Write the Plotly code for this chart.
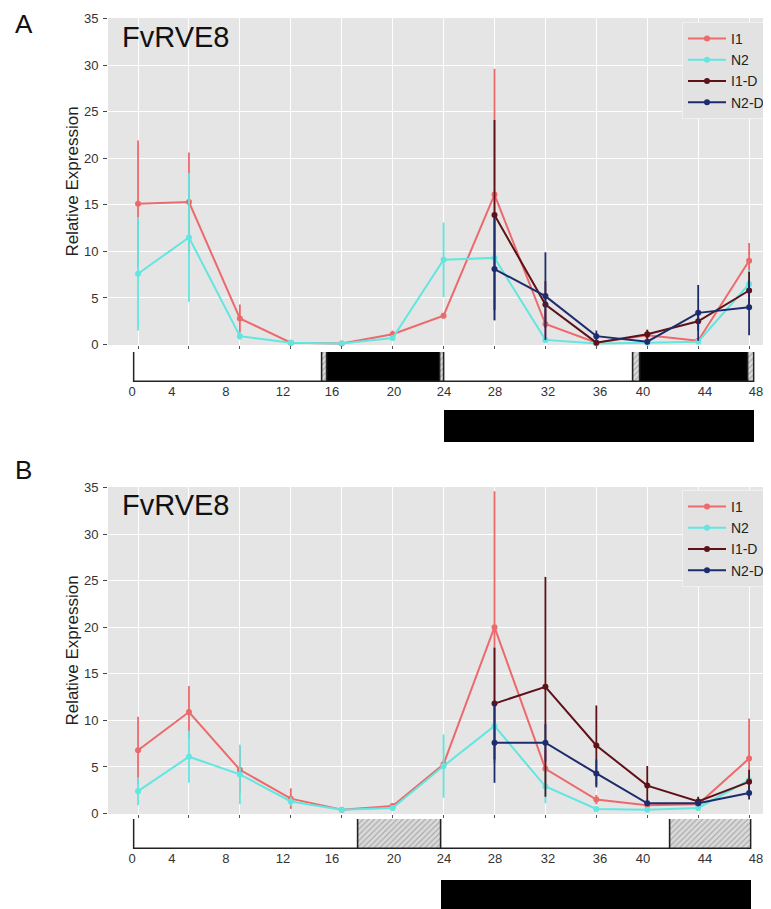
import plotly.graph_objects as go

# ---------------- data ----------------
sample_index = list(range(13))          # 13 sampling points
series_names = ["I1", "N2", "I1-D", "N2-D"]
series_colors = ["#EC6A6C", "#62E6E0", "#5E1218", "#1D2C6C"]

# Panel A
a_I1 = [15.1, 15.3, 2.8, 0.2, 0.1, 1.1, 3.1, 16.1, 2.2, 0.2, 1.0, 0.4, 9.0]
a_I1_err = [6.8, 5.3, 1.5, 0.2, 0.1, 0.4, 0.3, 13.5, 1.5, 0.3, 0.5, 0.3, 1.9]
a_N2 = [7.6, 11.5, 0.9, 0.2, 0.1, 0.7, 9.1, 9.3, 0.5, 0.1, 0.2, 0.3, 6.5]
a_N2_err = [6.1, 6.9, 0.4, 0.1, 0.1, 0.3, 4.0, 5.5, 0.3, 0.1, 0.1, 0.2, 1.5]
a_I1D = [None] * 7 + [13.9, 4.3, 0.2, 1.1, 2.5, 5.8]
a_I1D_err = [0] * 7 + [10.2, 2.5, 0.3, 0.5, 1.0, 2.0]
a_N2D = [None] * 7 + [8.1, 5.2, 0.9, 0.3, 3.4, 4.0]
a_N2D_err = [0] * 7 + [5.5, 4.7, 0.6, 0.3, 3.0, 3.0]

# Panel B
b_I1 = [6.8, 10.9, 4.7, 1.6, 0.4, 0.8, 5.3, 20.0, 4.8, 1.5, 0.9, 1.0, 5.9]
b_I1_err = [3.6, 2.8, 2.5, 1.1, 0.2, 0.3, 0.5, 14.6, 2.0, 0.5, 0.3, 0.3, 4.3]
b_N2 = [2.4, 6.1, 4.2, 1.3, 0.4, 0.6, 5.1, 9.4, 2.9, 0.5, 0.4, 0.6, 3.6]
b_N2_err = [1.5, 2.8, 3.2, 0.5, 0.2, 0.2, 3.4, 2.5, 1.8, 0.2, 0.2, 0.2, 1.0]
b_I1D = [None] * 7 + [11.8, 13.6, 7.3, 3.0, 1.3, 3.4]
b_I1D_err = [0] * 7 + [6.0, 11.8, 4.3, 2.1, 0.5, 1.3]
b_N2D = [None] * 7 + [7.6, 7.6, 4.3, 1.1, 1.1, 2.2]
b_N2D_err = [0] * 7 + [4.3, 2.0, 1.5, 0.3, 0.3, 0.7]

# Light/dark strips (hours): (start, end, kind)
a_strip = [(0, 14.55, "light"), (14.55, 15.0, "hatch"), (15.0, 23.7, "dark"),
           (23.7, 24.0, "hatch"), (24.0, 38.7, "light"), (38.7, 39.2, "hatch"),
           (39.2, 47.6, "dark"), (47.6, 48.0, "hatch")]
b_strip = [(0, 17.4, "light"), (17.4, 23.8, "hatch"), (23.8, 41.5, "light"),
           (41.5, 47.8, "hatch")]
a_dark_bar = (24.0, 48.0)
b_dark_bar = (23.8, 47.8)

hour_labels = ["0", "4", "8", "12", "16", "20", "24", "28", "32", "36", "40", "44", "48"]
hour_label_at = [-0.15, 2.94, 7.12, 11.53, 15.33, 20.13, 24.0, 27.95, 32.05, 36.08, 39.4, 44.2, 48.15]

gene = "FvRVE8"

# ---------------- figure ----------------
OFF = 8                      # page body margin
W, H = 771 - OFF, 909 - OFF
FONT = "Liberation Sans, Arial, Helvetica, sans-serif"

def fx(px):  # window pixel from left -> paper fraction
    return (px - OFF) / W

def py(px):  # window pixel from top -> paper fraction
    return 1 - (px - OFF) / H

fig = go.Figure()

panels = [
    dict(x="x", y="y", legend="legend", sx="x3", sy="y3", by="y5",
         data=[(a_I1, a_I1_err), (a_N2, a_N2_err), (a_I1D, a_I1D_err), (a_N2D, a_N2D_err)],
         strip=a_strip, dark=a_dark_bar),
    dict(x="x2", y="y2", legend="legend2", sx="x4", sy="y4", by="y6",
         data=[(b_I1, b_I1_err), (b_N2, b_N2_err), (b_I1D, b_I1D_err), (b_N2D, b_N2D_err)],
         strip=b_strip, dark=b_dark_bar),
]

kind_style = {
    "light": dict(color="#FFFFFF", pattern=dict(shape="")),
    "dark": dict(color="#000000", pattern=dict(shape="")),
    "hatch": dict(color="#DADADA", pattern=dict(shape="/", fgcolor="#6A6A6A", size=4, solidity=0.25)),
}

for p in panels:
    for name, color, (vals, errs) in zip(series_names, series_colors, p["data"]):
        fig.add_trace(go.Scatter(
            x=sample_index, y=vals, name=name, mode="lines+markers",
            line=dict(color=color, width=2), marker=dict(color=color, size=6),
            error_y=dict(type="data", array=errs, visible=True, color=color, thickness=1.8, width=0),
            xaxis=p["x"], yaxis=p["y"], legend=p["legend"], cliponaxis=False,
            connectgaps=False,
        ))
    for start, end, kind in p["strip"]:
        st = kind_style[kind]
        fig.add_trace(go.Bar(
            y=[0], x=[end - start], base=[start], orientation="h", width=1,
            marker=dict(color=st["color"], pattern=st["pattern"],
                        line=dict(color="#222222", width=1.5)),
            xaxis=p["sx"], yaxis=p["sy"], showlegend=False, hoverinfo="skip",
        ))
    d0, d1 = p["dark"]
    fig.add_trace(go.Bar(
        y=[0], x=[d1 - d0], base=[d0], orientation="h", width=1,
        marker=dict(color="#000000", line=dict(width=0)),
        xaxis=p["sx"], yaxis=p["by"], showlegend=False, hoverinfo="skip",
    ))

main_x_domain = [fx(108), 1.0]
strip_x_domain = [fx(131.4), fx(756.6)]

common_main_x = dict(range=[-0.59, 12.43], tickvals=sample_index, showticklabels=False,
                     ticks="outside", ticklen=3, tickcolor="#555555",
                     showgrid=True, gridcolor="#FFFFFF", gridwidth=1, zeroline=False,
                     showline=False, domain=main_x_domain, automargin=False)
common_main_y = dict(range=[-0.05, 35.05], tickvals=[0, 5, 10, 15, 20, 25, 30, 35],
                     ticks="outside", ticklen=4, tickcolor="#444444", ticklabelstandoff=2,
                     tickfont=dict(size=13, color="#333333", family=FONT),
                     showgrid=True, gridcolor="#FFFFFF", gridwidth=1, zeroline=False,
                     showline=False, automargin=False,
                     title=dict(text="Relative Expression", font=dict(size=17, color="#222222", family=FONT),
                                standoff=0))
common_strip_x = dict(range=[-0.2, 48.2], domain=strip_x_domain, tickvals=hour_label_at,
                      ticktext=hour_labels, ticks="", ticklen=0,
                      tickfont=dict(size=13, color="#333333", family=FONT),
                      showgrid=False, zeroline=False, showline=False, automargin=False)
hidden_y = dict(range=[-0.5, 0.5], visible=False, fixedrange=True, automargin=False)

legend_common = dict(xanchor="left", yanchor="top", bgcolor="#E2E2E2", bordercolor="#F0F0F0",
                     borderwidth=1, font=dict(size=14, color="#222222", family=FONT), itemwidth=38)

fig.update_layout(
    width=W, height=H, margin=dict(l=0, r=0, t=0, b=0, autoexpand=False),
    paper_bgcolor="#FFFFFF", plot_bgcolor="rgba(0,0,0,0)",
    font=dict(family=FONT, color="#222222"),
    barmode="overlay", bargap=0,
    xaxis=dict(**common_main_x, anchor="y"),
    yaxis=dict(**common_main_y, domain=[py(345), py(18)], anchor="x"),
    xaxis2=dict(**common_main_x, anchor="y2"),
    yaxis2=dict(**common_main_y, domain=[py(814), py(487)], anchor="x2"),
    xaxis3=dict(**common_strip_x, anchor="y3"),
    yaxis3=dict(**hidden_y, domain=[py(382), py(352)], anchor="x3"),
    xaxis4=dict(**common_strip_x, anchor="y4"),
    yaxis4=dict(**hidden_y, domain=[py(849), py(819)], anchor="x4"),
    yaxis5=dict(**hidden_y, domain=[py(442), py(410)], anchor="x3"),
    yaxis6=dict(**hidden_y, domain=[py(909), py(880)], anchor="x4"),
    legend=dict(x=fx(682), y=py(22), **legend_common),
    legend2=dict(x=fx(682), y=py(490), **legend_common),
    showlegend=True,
)

# grey panel backgrounds (below grid)
for xr, yr in [("x domain", "y domain"), ("x2 domain", "y2 domain")]:
    fig.add_shape(type="rect", xref=xr, yref=yr, x0=0, x1=1, y0=0, y1=1,
                  fillcolor="#E5E5E5", line=dict(width=0), layer="below")

# texts
for txt, yc in [(gene, 36.5), (gene, 505)]:
    fig.add_annotation(text=txt, x=fx(120), y=py(yc), xref="paper", yref="paper",
                       xanchor="left", yanchor="middle", showarrow=False,
                       font=dict(size=29, color="#111111", family=FONT))
for txt, yc in [("A", 24.5), ("B", 470)]:
    fig.add_annotation(text=txt, x=fx(13), y=py(yc), xref="paper", yref="paper",
                       xanchor="left", yanchor="middle", showarrow=False,
                       font=dict(size=26, color="#111111", family=FONT))

fig.write_html("out.html")
